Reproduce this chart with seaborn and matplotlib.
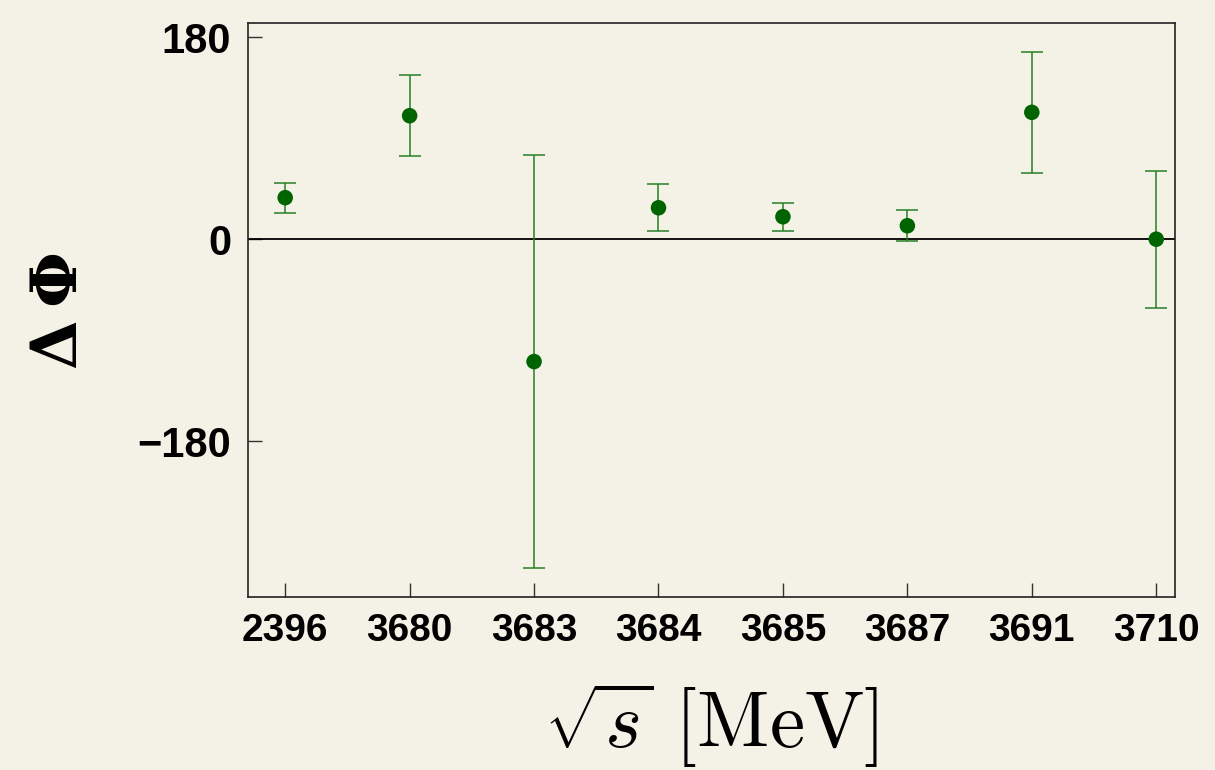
import numpy as np
import pandas as pd
import matplotlib
matplotlib.use("Agg")
import matplotlib.pyplot as plt
import seaborn as sns

# Data
energies = ["2396", "3680", "3683", "3684", "3685", "3687", "3691", "3710"]
delta_phi = [37, 110, -109, 28, 20, 12, 113, 0]
errors = [13.5, 36, 184, 21, 12.3, 14, 54, 61]
yticks = [-180, 0, 180]

sns.set_theme(style="white")
plt.rcParams["mathtext.fontset"] = "cm"
plt.rcParams["font.family"] = ["Liberation Sans", "DejaVu Sans"]
plt.rcParams["text.color"] = "black"
plt.rcParams["axes.labelcolor"] = "black"
plt.rcParams["xtick.color"] = "black"
plt.rcParams["ytick.color"] = "black"

bg = "#f4f1e7"
fig = plt.figure(figsize=(12.15, 7.7), dpi=100, facecolor=bg)
ax = fig.add_axes([0.204, 0.225, 0.763, 0.745])
ax.set_facecolor(bg)

df = pd.DataFrame({"E": energies, "dphi": delta_phi, "err": errors})

ax.axhline(0, color="black", lw=1.3, zorder=1)

xpos = np.arange(len(energies))
ax.errorbar(xpos, df["dphi"], yerr=df["err"], fmt="none", ecolor="#267f26",
            elinewidth=1.1, capsize=8, capthick=1.1, zorder=2)
sns.scatterplot(data=df, x="E", y="dphi", ax=ax, color="#006400", s=125,
                edgecolor="none", zorder=3)

ax.set_xlim(-0.3, len(energies) - 0.85)
ax.set_ylim(-318.5, 192.5)
ax.set_yticks(yticks)
ax.set_yticklabels(["\u2212180", "0", "180"], fontsize=30, fontweight="bold")
ax.set_xticks(xpos)
ax.set_xticklabels(energies, fontsize=28, fontweight="bold")
ax.tick_params(axis="both", direction="in", length=10, width=1,
               bottom=True, left=True, top=False, right=False, pad=12)
ax.tick_params(axis="both", color="#333333")

for s in ax.spines.values():
    s.set_color("#222222")
    s.set_linewidth(1.2)

ax.set_xlabel(r"$\sqrt{s}\ [\mathrm{MeV}]$", fontsize=57, labelpad=22)
ax.set_ylabel("\u0394\u2009\u03a6", fontsize=46, fontweight="bold",
              family=["DejaVu Serif"], labelpad=34)

fig.savefig("out.png", dpi=100, facecolor=bg)
